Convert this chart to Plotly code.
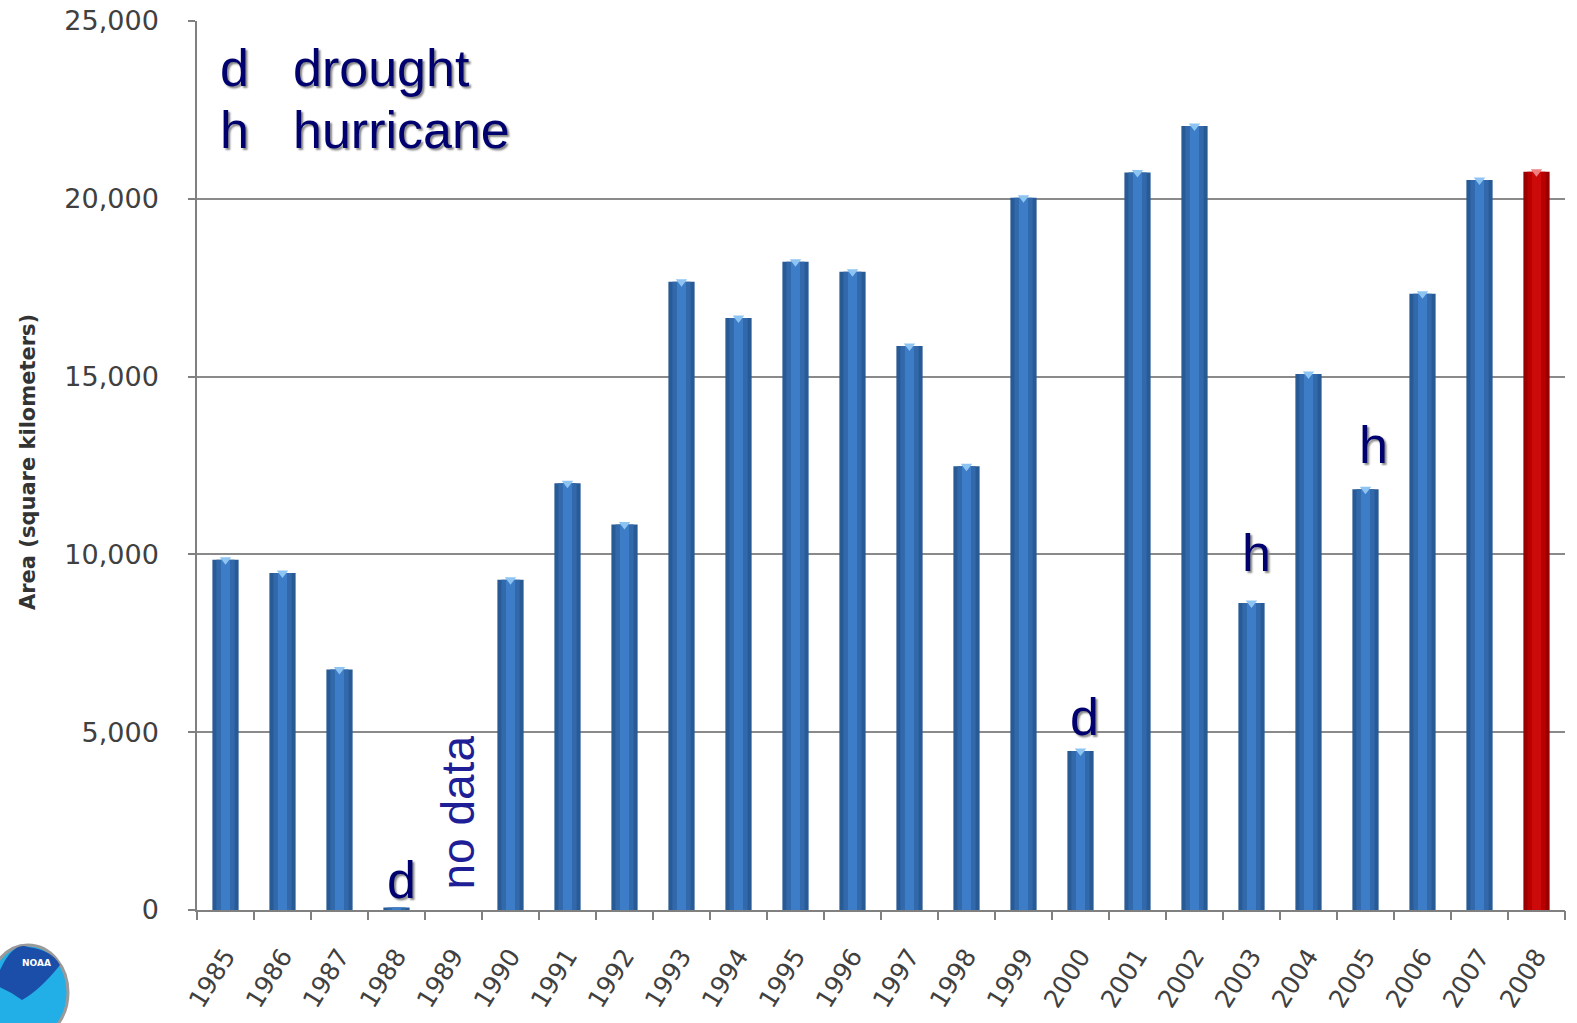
import plotly.graph_objects as go

years = [str(y) for y in range(1985, 2009)]
area_km2 = [9850, 9480, 6760, 70, None, 9290, 12000, 10840, 17670, 16650,
            18230, 17950, 15860, 12480, 20030, 4470, 20740, 22050, 8630, 15070,
            11830, 17330, 20530, 20760]
event_years = ["1988", "2000", "2003", "2005"]
event_codes = ["d", "d", "h", "h"]
legend_codes = ["d", "h"]
legend_names = ["drought", "hurricane"]
missing_year = "1989"
highlight_year = "2008"
y_ticks = [0, 5000, 10000, 15000, 20000, 25000]

W, H = 1577, 1023
L, R, T, B = 197, 12, 21, 113
PW, PH = W - L - R, H - T - B


def px(x):
    return (x - L) / PW


def py(y):
    return (H - B - y) / PH


def pick(blue, red):
    return [red if y == highlight_year else blue for y in years]


idx = list(range(len(years)))

fig = go.Figure()
# simulated cylinder shading: dark outer, mid, light centre
fig.add_trace(go.Bar(x=idx, y=area_km2, width=0.46,
                     marker=dict(color=pick("#285a96", "#9a0000"), line_width=0),
                     hoverinfo="skip"))
fig.add_trace(go.Bar(x=idx, y=area_km2, width=0.32,
                     marker=dict(color=pick("#3169ab", "#b80000"), line_width=0),
                     hoverinfo="skip"))
fig.add_trace(go.Bar(x=idx, y=area_km2, width=0.16,
                     marker=dict(color=pick("#3d7cc6", "#cc0a0a"), line_width=0),
                     hoverinfo="skip"))
# light cap at top of each bar
cap_i = [i for i, v in zip(idx, area_km2) if v is not None and v > 1000]
cap_y = [area_km2[i] for i in cap_i]
fig.add_trace(go.Scatter(x=cap_i, y=cap_y, mode="markers",
                         marker=dict(symbol="triangle-down", size=10,
                                     color=["#f08080" if years[i] == highlight_year else "#8ec4f2" for i in cap_i],
                                     line_width=0),
                         hoverinfo="skip", cliponaxis=False))

fig.update_layout(
    width=W, height=H,
    margin=dict(l=L, r=R, t=T, b=B, autoexpand=False),
    paper_bgcolor="white", plot_bgcolor="white",
    showlegend=False, barmode="overlay",
    xaxis=dict(range=[-0.5, len(years) - 0.5], autorange=False,
               tickvals=idx, ticktext=years,
               showgrid=False, showline=True, linecolor="#808080", linewidth=1.5,
               ticks="", automargin=False, zeroline=False,
               tickangle=-58,
               tickfont=dict(family="DejaVu Sans", size=25, color="#404040"),
               ticklabelstandoff=20),
    xaxis2=dict(overlaying="x", range=[-0.5, len(years) - 0.5], autorange=False,
                tickvals=[i - 0.5 for i in idx] + [len(years) - 0.5],
                showticklabels=False, ticks="outside", ticklen=9,
                tickcolor="#808080", tickwidth=1.5, showgrid=False,
                showline=False, zeroline=False, automargin=False, side="bottom"),
    yaxis=dict(range=[0, 25000], autorange=False, tickvals=y_ticks, tickformat=",d",
               showgrid=True, gridcolor="#8a8a8a", gridwidth=1.5,
               showline=True, linecolor="#808080", linewidth=1.5,
               ticks="outside", ticklen=7, tickcolor="#808080", tickwidth=1.5,
               tickfont=dict(family="DejaVu Sans", size=27, color="#404040"),
               ticklabelstandoff=24, zeroline=False, automargin=False),
)
# invisible trace to activate tick-boundary axis
fig.add_trace(go.Scatter(x=[0], y=[0], xaxis="x2", mode="markers",
                         marker=dict(opacity=0), hoverinfo="skip"))

# y-axis title
fig.add_annotation(xref="paper", yref="paper", x=px(28), y=py(462),
                   text="<b>Area (square kilometers)</b>", textangle=-90,
                   showarrow=False, xanchor="center", yanchor="middle",
                   font=dict(family="DejaVu Sans", size=21, color="#333333"))

navy = "#00006e"
shadow = "2px 2px 2px #888888"
# key at top-left
for i, (c, n) in enumerate(zip(legend_codes, legend_names)):
    yc = 68 + 62 * i
    fig.add_annotation(xref="paper", yref="paper", x=px(218), y=py(yc), text=c,
                       showarrow=False, xanchor="left", yanchor="middle",
                       font=dict(family="Liberation Sans", size=52, color=navy, shadow=shadow))
    fig.add_annotation(xref="paper", yref="paper", x=px(291), y=py(yc), text=n,
                       showarrow=False, xanchor="left", yanchor="middle",
                       font=dict(family="Liberation Sans", size=52, color=navy, shadow=shadow))

# event letters above bars
shifts = {"1988": 28, "2000": 34, "2003": 50, "2005": 44}
xshifts = {"1988": 5, "2000": 4, "2003": 5, "2005": 8}
for yr, code in zip(event_years, event_codes):
    i = years.index(yr)
    fig.add_annotation(x=i, y=area_km2[i], text=code, showarrow=False,
                       xanchor="center", yanchor="middle", yshift=shifts[yr], xshift=xshifts[yr],
                       font=dict(family="Liberation Sans", size=52, color=navy, shadow=shadow))

# no data label
fig.add_annotation(x=years.index(missing_year), y=0, text="no data", textangle=-90,
                   showarrow=False, xanchor="center", yanchor="bottom", yshift=18, xshift=4,
                   font=dict(family="Liberation Sans", size=46, color="#1e1e96"))

# NOAA-like emblem (decoration)
fig.add_shape(type="circle", xref="paper", yref="paper",
              x0=px(-12), x1=px(68), y0=py(1040), y1=py(945),
              fillcolor="#22aee6", line=dict(color="#9a9a9a", width=3), layer="above")
fig.add_shape(type="path", xref="paper", yref="paper", layer="above",
              path=(f"M {px(-6)},{py(985)} Q {px(10)},{py(940)} {px(28)},{py(947)} "
                    f"Q {px(52)},{py(950)} {px(60)},{py(965)} "
                    f"Q {px(40)},{py(990)} {px(22)},{py(1000)} "
                    f"Q {px(8)},{py(990)} {px(-6)},{py(985)} Z"),
              fillcolor="#1a4ea8", line=dict(width=0))
fig.add_annotation(xref="paper", yref="paper", x=px(20), y=py(970), text="<b>NOAA</b>",
                   showarrow=False, font=dict(family="DejaVu Sans", size=9, color="white"))

fig.write_html("out.html", config={"displayModeBar": False},
               post_script="document.body.style.margin='0';document.body.style.overflow='hidden';")
